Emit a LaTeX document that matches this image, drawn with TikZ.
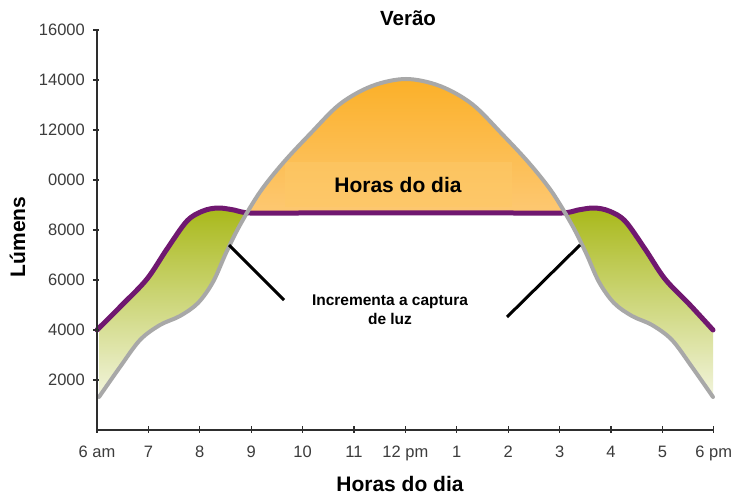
\documentclass[tikz,border=0pt]{standalone}
\usepackage{fontspec}
\setmainfont{Liberation Sans}
\definecolor{axisc}{HTML}{2E2E2E}
\definecolor{tickc}{HTML}{3C3C3C}
\definecolor{purplec}{HTML}{701870}
\definecolor{grayc}{HTML}{A8A8A8}
\definecolor{greentop}{HTML}{A8B818}
\definecolor{greenbot}{HTML}{F4F6E2}
\definecolor{orangetop}{HTML}{FBB028}
\definecolor{orangebot}{HTML}{FDC872}
\definecolor{bandc}{HTML}{FDC866}
\newcommand{\graycurve}{plot[smooth,tension=0.55] coordinates {(99,397) (120,367) (140,340) (160,325) (180,316) (198,303) (213,282) (226,253) (240,225) (260,192) (283,163) (310,134) (340,104) (372,86) (406,79) (440,86) (472,104) (502,134) (529,163) (552,192) (572,225) (586,253) (599,282) (614,303) (632,316) (652,325) (672,340) (692,367) (713,397)}}
\newcommand{\purplecurve}{plot[smooth,tension=0.55] coordinates {(97,330) (122,305) (147,279) (167,249) (187,221) (203,211) (218,208) (234,210) (250,213) (300,213) (406,213) (512,213) (562,213) (578,210) (594,208) (609,211) (625,221) (645,249) (665,279) (690,305) (713,330)}}
\begin{document}
\begin{tikzpicture}[x=1pt,y=-1pt,
  ticklabel/.style={font=\fontsize{16.5}{19}\selectfont, text=tickc, inner sep=0pt},
  boldlabel/.style={font=\fontsize{21}{25}\selectfont\bfseries, inner sep=0pt},
  annot/.style={font=\fontsize{15.5}{18}\selectfont\bfseries, inner sep=0pt, align=center},
  pointer/.style={black, line width=3pt}]
\useasboundingbox (0,0) rectangle (731,494);
\fill[white] (0,0) rectangle (731,494);
% green fills
\begin{scope}
  \clip \graycurve -- (713,0) -- (99,0) -- cycle;
  \clip \purplecurve -- (713,445) -- (97,445) -- cycle;
  \shade[top color=greentop, bottom color=greenbot] (95,206) rectangle (716,402);
\end{scope}
% orange fill
\begin{scope}
  \clip \graycurve -- (713,445) -- (99,445) -- cycle;
  \shade[top color=orangetop, bottom color=orangebot] (230,78) rectangle (580,213);
\end{scope}
% band
\fill[bandc, opacity=0.6] (285,162) rectangle (512,207);
% curves
\draw[purplec, line width=5pt, line cap=round, line join=round] \purplecurve;
\draw[grayc, line width=4pt, line cap=round, line join=round] \graycurve;
% axes
\draw[axisc, line width=1.8pt] (97,30) -- (97,430) -- (714,430);
\foreach \y/\t in {380/2000, 330/4000, 280/6000, 230/8000, 180/0000, 130/12000, 80/14000, 30/16000}{
  \draw[axisc, line width=1.3pt] (93,\y) -- (99,\y);
  \node[ticklabel, anchor=east] (yl\y) at (85,\y) {\t};
}
\foreach \i/\t in {0/6 am, 1/7, 2/8, 3/9, 4/10, 5/11, 6/12 pm, 7/1, 8/2, 9/3, 10/4, 11/5, 12/6 pm}{
  \draw[axisc, line width=1.3pt] ({97+51.4*\i},426) -- ({97+51.4*\i},433);
  \node[ticklabel, anchor=base] (xl\i) at ({97+51.4*\i},457.5) {\t};
}
% texts
\node[boldlabel, font=\fontsize{20.5}{24}\selectfont\bfseries, anchor=base] (title) at (408,26) {Verão};
\node[boldlabel, rotate=90, anchor=base] (ylabel) at (25,237) {Lúmens};
\node[boldlabel, anchor=base] (xlabel) at (400,491) {Horas do dia};
\node[boldlabel, anchor=base] (band) at (398,193) {Horas do dia};
\node[annot, anchor=base] (note) at (390,324) {Incrementa a captura\\de luz};
% pointers
\coordinate (pl1) at (229,245);
\coordinate (pl2) at (284,300);
\coordinate (pr1) at (580,245);
\coordinate (pr2) at (507,317);
\draw[pointer] (pl1) -- (pl2);
\draw[pointer] (pr1) -- (pr2);
\end{tikzpicture}
\end{document}
